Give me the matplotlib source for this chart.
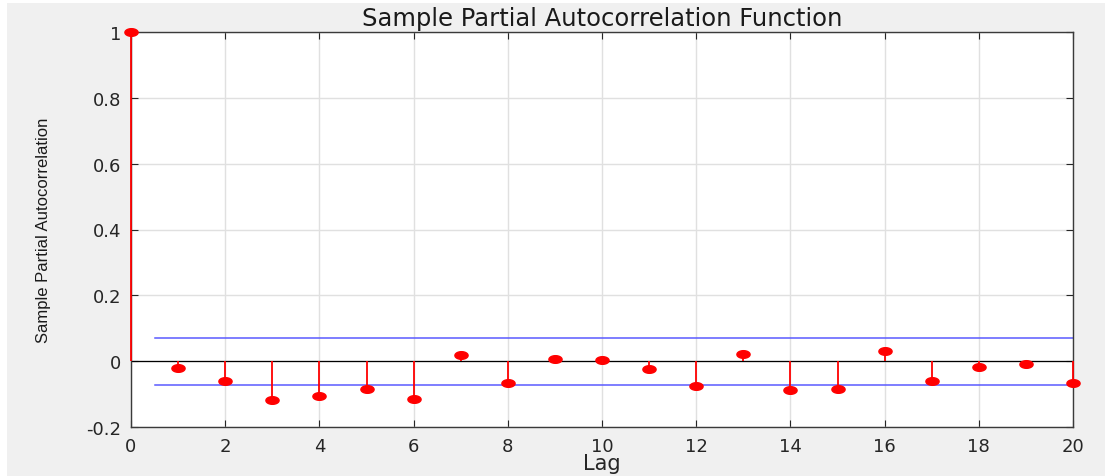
import numpy as np
import matplotlib
matplotlib.use("Agg")
import matplotlib.pyplot as plt
from matplotlib.path import Path
from matplotlib.patches import Rectangle

# partial autocorrelation values, lags 0..20
lags = list(range(21))
pacf = [1.0, -0.021, -0.061, -0.117, -0.105, -0.086, -0.116, 0.020, -0.065, 0.006,
        0.004, -0.025, -0.074, 0.022, -0.089, -0.085, 0.032, -0.059, -0.019, -0.009, -0.067]
bound = 0.0715  # approx. 95% confidence bound
yticks = [-0.2, 0, 0.2, 0.4, 0.6, 0.8, 1]
ytick_labels = ["-0.2", "0", "0.2", "0.4", "0.6", "0.8", "1"]
xticks = list(range(0, 21, 2))

plt.rcParams['font.family'] = ['DejaVu Sans']

fig = plt.figure(figsize=(11.05, 4.77), dpi=100)
fig.patch.set_facecolor('white')
# grey window area with a thin white strip on the left and top
fig.patches.append(Rectangle((7 / 1105, 0), 1, 1 - 4 / 477, transform=fig.transFigure,
                             facecolor='#f0f0f0', edgecolor='none', zorder=-10))

ax = fig.add_axes([131 / 1105, 1 - 428 / 477, (1073 - 131) / 1105, (428 - 33) / 477])
ax.set_facecolor('white')

# flattened ellipse marker
t = np.linspace(0, 2 * np.pi, 40)
ellipse = Path(np.column_stack([np.cos(t), 0.58 * np.sin(t)]), closed=True)

ax.vlines(lags, 0, pacf, colors='#ff0000', lw=1.3, zorder=3, clip_on=False)
ax.plot(lags, pacf, ls='none', marker=ellipse, ms=9.5, color='#ff0000',
        mec='#ff0000', zorder=4, clip_on=False)
ax.axhline(0, color='black', lw=0.9, zorder=2)
ax.plot([0.5, 20], [bound, bound], color='#5a5aff', lw=1.1, zorder=2)
ax.plot([0.5, 20], [-bound, -bound], color='#5a5aff', lw=1.1, zorder=2)

ax.set_xlim(0, 20)
ax.set_ylim(-0.2, 1)
ax.set_xticks(xticks)
ax.set_yticks(yticks)
ax.set_yticklabels(ytick_labels)
ax.grid(True, color='#e0e0e0', lw=1)
ax.set_axisbelow(True)
ax.tick_params(direction='in', length=5, width=0.8, top=True, right=True,
               labelsize=13, colors='#262626', pad=7)
for s in ax.spines.values():
    s.set_color('#3a3a3a')
    s.set_linewidth(1.0)

ax.set_title('Sample Partial Autocorrelation Function', fontsize=17.5, color='#1a1a1a', pad=5)
ax.set_xlabel('Lag', fontsize=15, color='#262626', labelpad=-1)
ax.set_ylabel('Sample Partial Autocorrelation', fontsize=12, color='#1a1a1a',
              family='Liberation Sans')
ax.yaxis.set_label_coords(-0.085, 0.5)

fig.savefig('out.png', dpi=100, facecolor=fig.get_facecolor())
